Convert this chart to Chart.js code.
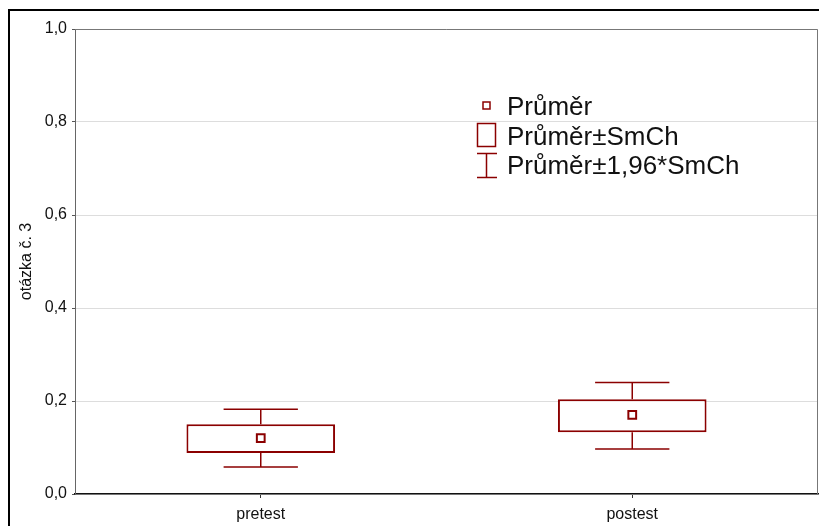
<!DOCTYPE html>
<html>
<head>
<meta charset="utf-8">
<script src="https://cdn.jsdelivr.net/npm/chart.js@4/dist/chart.umd.min.js"></script>
<style>
  html, body { margin: 0; padding: 0; background: #fff; overflow: hidden; }
  #wrap { position: relative; width: 819px; height: 526px; }
  #frame { position: absolute; left: 8px; top: 9px; width: 900px; height: 600px; border: 2px solid #000; pointer-events: none; }
  canvas { position: absolute; left: 0; top: 0; }
</style>
</head>
<body>
<div id="wrap">
  <canvas id="chartOtazka" width="819" height="526"></canvas>
  <div id="frame"></div>
</div>
<script>
const categories = ['pretest', 'postest'];
const means = [0.120, 0.170];
const seLow = [0.088, 0.133];
const seHigh = [0.150, 0.204];
const ciLow = [0.058, 0.097];
const ciHigh = [0.182, 0.240];
const yTicks = [0, 0.2, 0.4, 0.6, 0.8, 1.0];
const legendLabels = ['Průměr', 'Průměr±SmCh', 'Průměr±1,96*SmCh'];

const red = '#8b0000';

// whiskers drawn from the bar elements and the y scale
const whiskerPlugin = {
    id: 'whiskers',
    beforeDatasetsDraw(chart) {
        const ctx = chart.ctx;
        const y = chart.scales.y;
        const bars = chart.getDatasetMeta(0).data;
        ctx.save();
        ctx.strokeStyle = red;
        ctx.lineWidth = 1.5;
        bars.forEach((bar, i) => {
            const half = bar.width / 4;
            const yHi = y.getPixelForValue(ciHigh[i]);
            const yLo = y.getPixelForValue(ciLow[i]);
            const bHi = y.getPixelForValue(seHigh[i]);
            const bLo = y.getPixelForValue(seLow[i]);
            ctx.beginPath();
            ctx.moveTo(bar.x, yHi); ctx.lineTo(bar.x, bHi);
            ctx.moveTo(bar.x, bLo); ctx.lineTo(bar.x, yLo);
            ctx.moveTo(bar.x - half, yHi); ctx.lineTo(bar.x + half, yHi);
            ctx.moveTo(bar.x - half, yLo); ctx.lineTo(bar.x + half, yLo);
            ctx.stroke();
        });
        ctx.restore();
    }
};

// frame lines on top/right and the legend
const framePlugin = {
    id: 'frameLegend',
    afterDraw(chart) {
        const ctx = chart.ctx;
        const a = chart.chartArea;
        ctx.save();
        ctx.strokeStyle = '#777';
        ctx.lineWidth = 1;
        ctx.beginPath();
        ctx.moveTo(a.left, a.top + 0.5);
        ctx.lineTo(a.right - 0.5, a.top + 0.5);
        ctx.lineTo(a.right - 0.5, a.bottom);
        ctx.stroke();

        // legend
        ctx.strokeStyle = red;
        ctx.lineWidth = 1.5;
        ctx.strokeRect(483, 102, 7, 7);
        ctx.strokeRect(477.5, 123.5, 18, 23);
        ctx.beginPath();
        ctx.moveTo(477, 153.5); ctx.lineTo(497, 153.5);
        ctx.moveTo(486.5, 153.5); ctx.lineTo(486.5, 177.5);
        ctx.moveTo(477, 177.5); ctx.lineTo(497, 177.5);
        ctx.stroke();

        ctx.fillStyle = '#111';
        ctx.font = '26px "Liberation Sans", Arial, sans-serif';
        ctx.textBaseline = 'alphabetic';
        ctx.fillText(legendLabels[0], 507, 115);
        ctx.fillText(legendLabels[1], 507, 145);
        ctx.fillText(legendLabels[2], 507, 174);
        ctx.restore();
    }
};

const ctx = document.getElementById('chartOtazka').getContext('2d');
const font16 = { family: '"Liberation Sans", Arial, sans-serif', size: 16 };

new Chart(ctx, {
    type: 'bar',
    data: {
        labels: categories,
        datasets: [{
            type: 'bar',
            data: categories.map((c, i) => [seLow[i], seHigh[i]]),
            backgroundColor: '#fff',
            borderColor: red,
            borderWidth: 2,
            borderSkipped: false,
            barPercentage: 0.4,
            categoryPercentage: 1,
            order: 2
        }, {
            type: 'line',
            data: means,
            showLine: false,
            pointStyle: 'rect',
            pointRadius: 5.5,
            pointBackgroundColor: '#fff',
            pointBorderColor: red,
            pointBorderWidth: 2,
            order: 1
        }]
    },
    options: {
        responsive: false,
        animation: false,
        events: [],
        layout: { autoPadding: false, padding: { left: 0, top: 29, right: 1, bottom: 0 } },
        plugins: {
            legend: { display: false },
            tooltip: { enabled: false }
        },
        scales: {
            x: {
                grid: { display: true, offset: false, drawOnChartArea: false, tickLength: 4, tickColor: '#333' },
                border: { color: '#111', width: 1.5 },
                ticks: { font: font16, color: '#111', padding: 7 },
                afterFit(scale) {
                    scale.height = 32;
                    scale.paddingLeft = 0;
                    scale.paddingRight = 0;
                }
            },
            y: {
                min: 0,
                max: 1,
                afterBuildTicks(scale) { scale.ticks = yTicks.map(v => ({ value: v })); },
                grid: { color: '#dddddd', tickLength: 3, tickColor: '#555' },
                border: { color: '#666', width: 1 },
                ticks: {
                    font: font16,
                    color: '#111',
                    padding: 5,
                    callback: v => v.toFixed(1).replace('.', ',')
                },
                title: {
                    display: true,
                    text: 'otázka č. 3',
                    font: font16,
                    color: '#111',
                    padding: { top: 17, bottom: 0 }
                },
                afterFit(scale) { scale.width = 75; }
            }
        }
    },
    plugins: [whiskerPlugin, framePlugin]
});
</script>
</body>
</html>
